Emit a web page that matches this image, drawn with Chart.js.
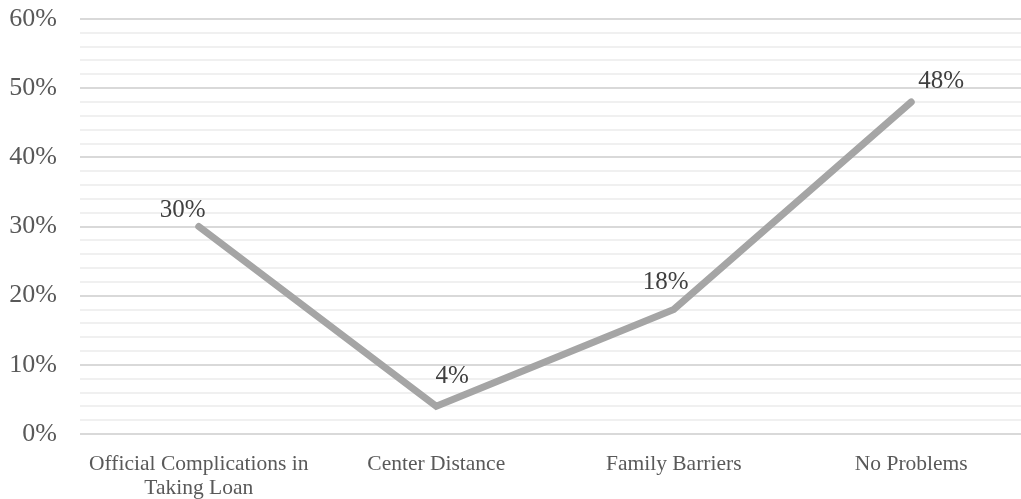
<!DOCTYPE html>
<html>
<head>
<meta charset="utf-8">
<script src="https://cdn.jsdelivr.net/npm/chart.js@4/dist/chart.umd.min.js"></script>
<style>
  html, body { margin: 0; padding: 0; background: #fff; overflow: hidden; }
  #wrap { width: 1030px; height: 499px; position: relative; }
</style>
</head>
<body>
<div id="wrap"><canvas id="chart"></canvas></div>
<script>
var categories = [['Official Complications in', 'Taking Loan'], 'Center Distance', 'Family Barriers', 'No Problems'];
var values = [30, 4, 18, 48];
var yTicks = [0, 10, 20, 30, 40, 50, 60];
// where each value label sits relative to its point (px)
var labelShift = [[-16, -16], [16, -30], [-8, -27], [30, -21]];

var FONT = '"Liberation Serif", "Times New Roman", serif';

var valueLabels = {
    id: 'valueLabels',
    afterDatasetsDraw: function(chart) {
        var ctx = chart.ctx;
        var meta = chart.getDatasetMeta(0);
        ctx.save();
        ctx.font = '25px ' + FONT;
        ctx.fillStyle = '#404040';
        ctx.textAlign = 'center';
        ctx.textBaseline = 'middle';
        meta.data.forEach(function(pt, i) {
            ctx.fillText(values[i] + '%', pt.x + labelShift[i][0], pt.y + labelShift[i][1]);
        });
        ctx.restore();
    }
};

new Chart(document.getElementById('chart').getContext('2d'), {
    type: 'line',
    data: {
        labels: categories,
        datasets: [{
            data: values,
            borderColor: '#a5a5a5',
            borderWidth: 7,
            tension: 0,
            pointRadius: 0,
            borderCapStyle: 'round',
            borderJoinStyle: 'miter',
            fill: false
        }]
    },
    options: {
        responsive: true,
        maintainAspectRatio: false,
        animation: false,
        layout: { padding: { top: 19, right: 0, bottom: 0, left: 0 } },
        plugins: { legend: { display: false }, tooltip: { enabled: false } },
        scales: {
            x: {
                offset: true,
                grid: { display: false, drawTicks: false },
                border: { display: false },
                ticks: {
                    color: '#595959',
                    font: { family: FONT, size: 21.5, lineHeight: 1.1 },
                    padding: 19,
                    maxRotation: 0,
                    autoSkip: false
                },
                afterFit: function(s) { s.height = 65; }
            },
            y: {
                min: 0,
                max: 60,
                grid: {
                    drawTicks: false,
                    lineWidth: 2,
                    color: function(c) {
                        return yTicks.indexOf(c.tick.value) >= 0 ? '#d9d9d9' : '#f0f0f0';
                    }
                },
                border: { display: false },
                ticks: {
                    stepSize: 2,
                    autoSkip: false,
                    color: '#595959',
                    font: { family: FONT, size: 26 },
                    padding: 23,
                    callback: function(v) { return yTicks.indexOf(v) >= 0 ? v + '%' : ''; }
                },
                afterFit: function(s) {
                    s.width = 80;
                    s.paddingTop = 0;
                    s.paddingBottom = 0;
                }
            }
        }
    },
    plugins: [valueLabels]
});
</script>
</body>
</html>
